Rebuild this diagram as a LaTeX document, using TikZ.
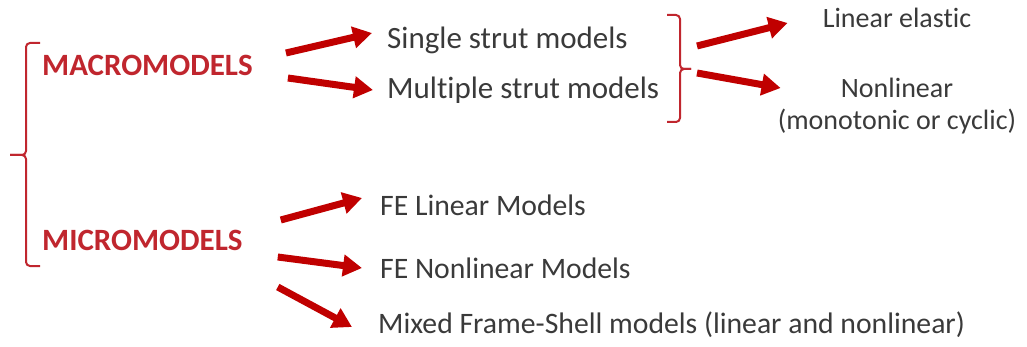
\documentclass[tikz,border=0pt]{standalone}
\usepackage{fontspec}
\usepackage{xcolor}
\usetikzlibrary{arrows.meta, calc, positioning}
\setmainfont{Carlito}[Ligatures=NoCommon]
\definecolor{modred}{HTML}{C0262E}
\definecolor{arrred}{HTML}{C00000}
\definecolor{txtgray}{HTML}{3A3A3A}
\tikzset{
  % thick red arrow style
  barr/.style={
    line width = 7pt
    , color=arrred
    , -{Triangle[length=19pt, width=21pt]}
  },
  % bracket style
  brk/.style={
    draw=modred
    , line width=2pt
    , rounded corners=4pt
  },
}
\tikzset{
  % plain label node style
  item/.style={
    text=txtgray
    , inner sep=0pt
    , anchor=west
    , font=\fontsize{31}{37}\selectfont
  },
  % lower labels are a bit smaller
  subitem/.style={
    item
    , font=\fontsize{29.7}{36}\selectfont
  },
  % red group title style
  group/.style={
    item
    , text=modred
    , font=\fontsize{31}{37}\selectfont\bfseries
  },
  % right column label style
  leaf/.style={
    item
    , anchor=center
    , align=center
    , font=\fontsize{28}{32}\selectfont
  },
}

\begin{document}
\begin{tikzpicture}[x=1pt, y=-1pt]
      \useasboundingbox (0,0) rectangle (1027,347);

      \node[group] (macro) at (42,65) {MACROMODELS};
      \node[group] (micro) at (42,240) {MICROMODELS};

      \node[item] (single) at (387,40) {Single strut models};
      \node[item, below=50pt of single.west, anchor=west] (multiple) {Multiple strut models};

      \node[leaf] (linel) at (897,18) {Linear elastic};
      \node[leaf] (nonlin) at (897,106) {Nonlinear\\(monotonic or cyclic)};

      \node[subitem] (felin) at (380,205) {FE Linear Models};
      \node[subitem, below=63pt of felin.west, anchor=west] (fenonlin) {FE Nonlinear Models};
      \node[subitem, below=57pt of fenonlin.west, anchor=west, xshift=-2pt] (mixed) {Mixed Frame-Shell models (linear and nonlinear)};

      % left bracket round both groups
      \draw[brk] (40,43) -- (26,43) -- (26,155) -- (10,155);
      \draw[brk] (10,155) -- (26,155) -- (26,266) -- (40,266);

      % right bracket round the strut models
      \coordinate (rbr) at (691,69);
      \draw[brk] (667,15) -- (680,15) -- (680,69) -- (rbr);
      \draw[brk] (rbr) -- (680,69) -- (680,122) -- (667,122);

      \draw[barr] ([xshift=33pt,yshift=12pt]macro.east) -- ([xshift=-15pt,yshift=7pt]single.west);
      \draw[barr] ([xshift=35pt,yshift=-13pt]macro.east) -- ([xshift=-14pt]multiple.west);

      \draw[barr] ([xshift=6pt,yshift=23pt]rbr) -- ([xshift=-35pt,yshift=-5pt]linel.west);
      \draw[barr] ([xshift=6pt,yshift=-4pt]rbr) -- ([xshift=3pt,yshift=18pt]nonlin.west);

      \draw[barr] ([xshift=38pt,yshift=20pt]micro.east) -- ([xshift=-18pt,yshift=7pt]felin.west);
      \draw[barr] ([xshift=35pt,yshift=-17pt]micro.east) -- ([xshift=-18pt]fenonlin.west);
      \draw[barr] ([xshift=35pt,yshift=-47pt]micro.east) -- ([xshift=-26pt,yshift=-2pt]mixed.west);
    \end{tikzpicture}
\end{document}
